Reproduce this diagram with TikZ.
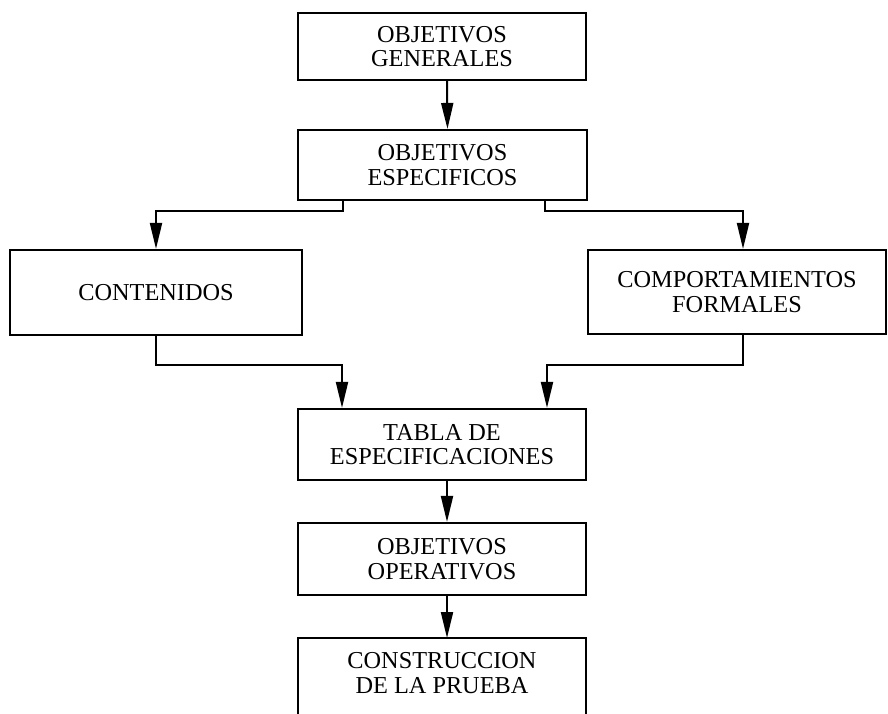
\documentclass[tikz,border=0pt]{standalone}
\usepackage{fontspec}
\setmainfont{Liberation Serif}
\usetikzlibrary{arrows.meta,calc}
\begin{document}
\begin{tikzpicture}[x=1pt,y=-1pt,
  box/.style={draw,line width=2.1pt,align=center,inner sep=0pt,
    font=\fontsize{24.3}{24.5}\selectfont},
  lbl/.style={align=center,inner sep=0pt,font=\fontsize{24.3}{24.5}\selectfont},
  conn/.style={line width=2.1pt},
  arr/.style={line width=2pt,-{Triangle[length=26pt,width=12pt]}}]
\useasboundingbox (0,0) rectangle (888,713);
\clip (0,0) rectangle (888,713);
\node[box,minimum width=288pt,minimum height=67pt] (gen) at (442,46.5) {OBJETIVOS\\GENERALES};
\node[box,minimum width=289pt,minimum height=70pt] (esp) at (442.5,165) {OBJETIVOS\\ESPECIFICOS};
\node[box,minimum width=292pt,minimum height=85pt] (cont) at (156,292.5) {CONTENIDOS};
\node[box,minimum width=298pt,minimum height=84pt] (comp) at (737,292) {COMPORTAMIENTOS\\FORMALES};
\node[box,minimum width=288pt,minimum height=71pt] (tabla) at (442,444.5) {TABLA DE\\ESPECIFICACIONES};
\node[box,minimum width=288pt,minimum height=72pt] (oper) at (442,559) {OBJETIVOS\\OPERATIVOS};
\node[lbl] (cons) at (442,673) {CONSTRUCCION\\DE LA PRUEBA};
\draw[conn] (298,730) -- (298,638) -- (586,638) -- (586,730);
\coordinate (constop) at (447,638);
% arrows
\draw[arr] ([xshift=5pt]gen.south) -- ([xshift=5pt]esp.north);
\draw[arr] ([xshift=-100pt]esp.south) -- ++(0,10) -| (cont.north);
\draw[arr] ([xshift=102.5pt]esp.south) -- ++(0,10) -| ([xshift=6pt]comp.north);
\draw[arr] (cont.south) -- ++(0,29) -| ([xshift=-100pt]tabla.north);
\draw[arr] ([xshift=6pt]comp.south) -- ++(0,30) -| ([xshift=105pt]tabla.north);
\draw[arr] ([xshift=5pt]tabla.south) -- ([xshift=5pt]oper.north);
\draw[arr] ([xshift=5pt]oper.south) -- (constop);
\end{tikzpicture}
\end{document}
